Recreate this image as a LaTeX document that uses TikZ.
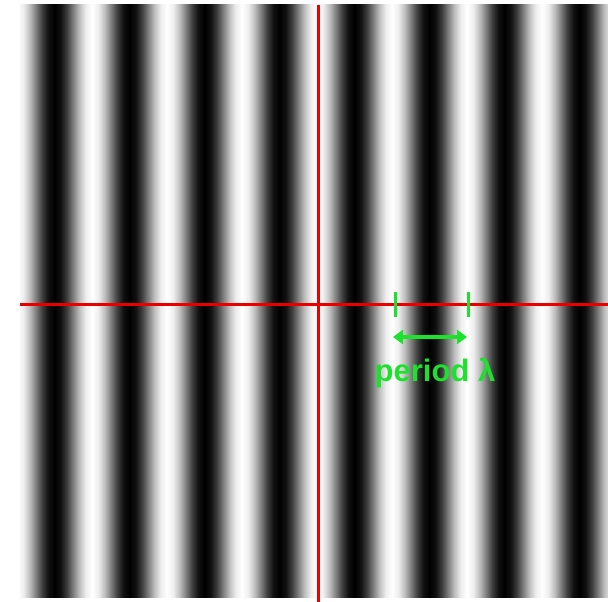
\documentclass[tikz,border=0pt]{standalone}
\usepackage{fontspec}
\setmainfont{Liberation Sans}
\usetikzlibrary{arrows.meta}
\definecolor{hairred}{RGB}{235,0,0}
\definecolor{markgreen}{RGB}{30,225,45}
% one period of the grating: white - black - white
\pgfdeclarehorizontalshading{grating}{100bp}{color(0bp)=(white); color(25bp)=(white);
  color(29.1667bp)=(white!93.3!black); color(33.3333bp)=(white!75!black);
  color(37.5bp)=(white!50!black); color(41.6667bp)=(white!25!black);
  color(45.8333bp)=(white!6.7!black); color(50bp)=(black);
  color(54.1667bp)=(white!6.7!black); color(58.3333bp)=(white!25!black);
  color(62.5bp)=(white!50!black); color(66.6667bp)=(white!75!black);
  color(70.8333bp)=(white!93.3!black); color(75bp)=(white); color(100bp)=(white)}
\tikzset{
  hair/.style={draw=hairred,line width=3pt},
  tick/.style={draw=markgreen,line width=3pt},
  span/.style={draw=markgreen,line width=4pt,{Triangle[length=10pt,width=14pt]}-{Triangle[length=10pt,width=14pt]}}
}
\begin{document}
\begin{tikzpicture}[x=1pt,y=-1pt]
  \useasboundingbox (0,0) rectangle (608,602);
  \begin{scope}
    \clip (20,5) rectangle (608,597);
    \foreach \k in {0,...,7}
      \shade[shading=grating] ({17+75*\k},5) rectangle +(75,592);
  \end{scope}
  \coordinate (top) at (318,5);
  \coordinate (bottom) at (318,602);
  \coordinate (left) at (20,304);
  \coordinate (right) at (608,304);
  \draw[hair] (top) -- (bottom);
  \draw[hair] (left) -- (right);
  \coordinate (t1) at (395,304);
  \coordinate (t2) at (468,304);
  \draw[tick] ([yshift=12pt]t1) -- ([yshift=-13pt]t1);
  \draw[tick] ([yshift=12pt]t2) -- ([yshift=-13pt]t2);
  \coordinate (a1) at (393,337);
  \coordinate (a2) at (467,337);
  \draw[span] (a1) -- (a2);
  \node[text=markgreen,font=\bfseries\fontsize{31}{37}\selectfont] (lbl) at (435,373) {period λ};
\end{tikzpicture}
\end{document}
